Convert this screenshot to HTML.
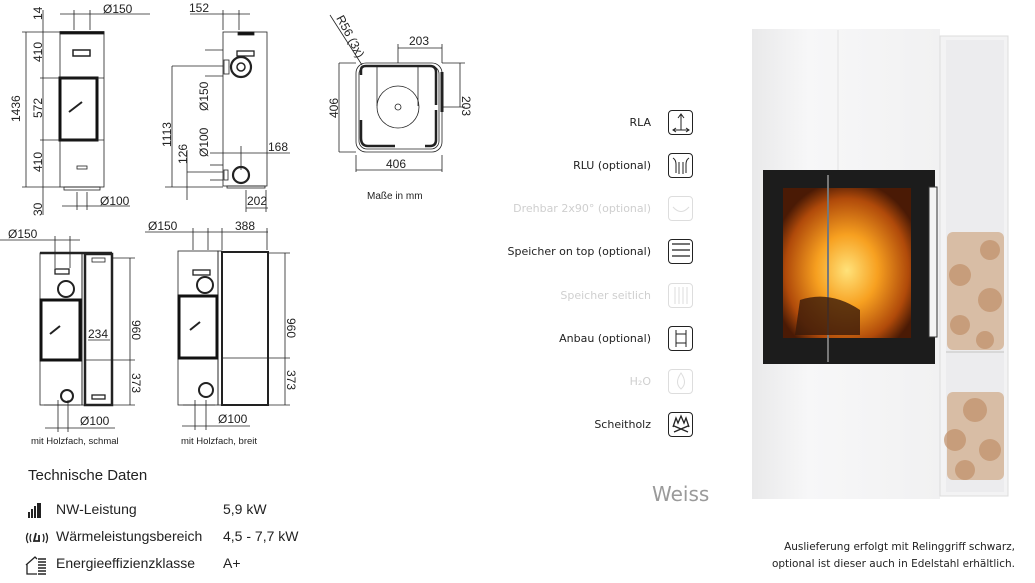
<!DOCTYPE html>
<html><head><meta charset="utf-8"><style>
html,body{margin:0;padding:0;background:#fff;}
body{width:1035px;height:583px;overflow:hidden;position:relative;font-family:"Liberation Sans",sans-serif;}
svg{position:absolute;left:0;top:0;}
.t{position:absolute;white-space:nowrap;color:#222;}
.lbl{position:absolute;right:384px;font-size:11.5px;color:#222;white-space:nowrap;font-family:"DejaVu Sans",sans-serif;font-size:11px;}
.dis{color:#cfcfcf;}
.ic{position:absolute;left:668px;width:25px;height:25px;border:1.5px solid #222;border-radius:4px;box-sizing:border-box;}
.ic.d{border-color:#ddd;}
</style></head><body>
<svg width="1035" height="583" viewBox="0 0 1035 583" font-family="Liberation Sans, sans-serif" font-size="11" fill="none" stroke="#222" stroke-width="0.8">
<!-- Drawing 1 front -->
<rect x="60" y="32" width="44" height="155"/>
<rect x="60" y="31.5" width="44" height="2.5" fill="#111"/>
<rect x="73" y="50" width="17" height="6" stroke-width="1.5"/>
<rect x="60" y="78" width="37" height="62" stroke="#111" stroke-width="3"/>
<path d="M69 112 L82 102" stroke-width="2"/>
<rect x="77" y="166" width="10" height="3"/>
<line x1="60" y1="78" x2="104" y2="78"/><line x1="60" y1="140" x2="104" y2="140"/>
<rect x="64" y="187" width="36" height="3"/>
<line x1="26" y1="32" x2="26" y2="187"/><line x1="43" y1="10" x2="43" y2="215"/>
<line x1="22" y1="32" x2="60" y2="32"/><line x1="22" y1="187" x2="60" y2="187"/><line x1="40" y1="78" x2="60" y2="78"/><line x1="40" y1="140" x2="60" y2="140"/>
<line x1="60" y1="14" x2="150" y2="14"/><line x1="74" y1="10" x2="74" y2="30"/><line x1="90" y1="10" x2="90" y2="30"/>
<line x1="62" y1="206" x2="130" y2="206"/><line x1="77" y1="192" x2="77" y2="210"/><line x1="87" y1="192" x2="87" y2="210"/>
<g fill="#222" stroke="none" font-size="12">
<text x="103" y="13">Ø150</text><text x="100" y="205">Ø100</text>
<text transform="translate(20,122) rotate(-90)">1436</text>
<text transform="translate(42,62) rotate(-90)">410</text>
<text transform="translate(42,118) rotate(-90)">572</text>
<text transform="translate(42,172) rotate(-90)">410</text>
<text transform="translate(42,20) rotate(-90)">14</text>
<text transform="translate(42,216) rotate(-90)">30</text>
</g>
<!-- Drawing 2 side -->
<rect x="223" y="32" width="44" height="154"/>
<rect x="238" y="32" width="16" height="3" fill="#111"/>
<rect x="237" y="51" width="17" height="5" stroke-width="1.3"/>
<circle cx="241" cy="67" r="10" stroke-width="2.2"/><circle cx="241" cy="67" r="4" stroke-width="1.5"/>
<rect x="224" y="60" width="5" height="14"/>
<circle cx="241" cy="175" r="8" stroke-width="2.2"/><rect x="224" y="170" width="4" height="10"/>
<rect x="227" y="186" width="38" height="2"/>
<line x1="172" y1="66" x2="223" y2="66"/><line x1="172" y1="66" x2="172" y2="187"/>
<line x1="205" y1="50" x2="223" y2="50"/><line x1="205" y1="76" x2="223" y2="76"/>
<line x1="187" y1="172" x2="223" y2="172"/><line x1="187" y1="150" x2="187" y2="200"/>
<line x1="210" y1="165" x2="223" y2="165"/><line x1="210" y1="180" x2="223" y2="180"/>
<line x1="165" y1="187" x2="223" y2="187"/>
<line x1="210" y1="153" x2="290" y2="153"/><line x1="241" y1="146" x2="241" y2="170"/>
<line x1="190" y1="14" x2="250" y2="14"/><line x1="223" y1="10" x2="223" y2="30"/><line x1="239" y1="10" x2="239" y2="30"/>
<line x1="246" y1="208" x2="268" y2="208"/><line x1="246" y1="190" x2="246" y2="212"/><line x1="266" y1="190" x2="266" y2="212"/>
<g fill="#222" stroke="none" font-size="12">
<text x="189" y="12">152</text><text x="268" y="151">168</text><text x="247" y="205">202</text>
<text transform="translate(171,147) rotate(-90)">1113</text>
<text transform="translate(208,111) rotate(-90)">Ø150</text>
<text transform="translate(208,157) rotate(-90)">Ø100</text>
<text transform="translate(187,164) rotate(-90)">126</text>
</g>
<!-- Drawing 3 top view -->
<rect x="356" y="63" width="86" height="89" rx="10"/>
<rect x="359" y="66" width="80" height="83" rx="8"/>
<path d="M361 75 V70 Q361 66 366 66 H430 Q436 66 436 72 V105" stroke-width="2.5"/>
<path d="M361 120 V138 Q361 146 368 146 H395" stroke-width="2.5"/>
<path d="M425 146 H430 Q436 146 436 140 V110" stroke-width="2.5"/>
<circle cx="398" cy="107" r="21"/><circle cx="398" cy="107" r="3"/>
<line x1="377" y1="67" x2="377" y2="106"/><line x1="418" y1="67" x2="418" y2="106"/>
<line x1="442" y1="72" x2="442" y2="112" stroke-width="3"/>
<line x1="330" y1="15" x2="362" y2="65"/>
<line x1="339" y1="63" x2="356" y2="63"/><line x1="339" y1="152" x2="356" y2="152"/><line x1="339" y1="63" x2="339" y2="152"/>
<line x1="398" y1="48" x2="442" y2="48"/><line x1="398" y1="44" x2="398" y2="63"/><line x1="442" y1="44" x2="442" y2="63"/>
<line x1="442" y1="63" x2="465" y2="63"/><line x1="442" y1="107" x2="465" y2="107"/><line x1="460" y1="63" x2="460" y2="107"/>
<line x1="356" y1="170" x2="442" y2="170"/><line x1="356" y1="155" x2="356" y2="172"/><line x1="442" y1="155" x2="442" y2="172"/>
<g fill="#222" stroke="none" font-size="12">
<text x="409" y="45">203</text><text x="386" y="168">406</text>
<text transform="translate(338,118) rotate(-90)">406</text>
<text transform="translate(462,96) rotate(90)">203</text>
<text transform="translate(336,18) rotate(62)">R56 (3x)</text>
<text x="367" y="199" font-size="10">Maße in mm</text>
</g>
<!-- Drawing 4 -->
<rect x="40" y="253" width="42" height="152"/>
<line x1="82" y1="253" x2="82" y2="405"/><rect x="82" y="253" width="3" height="152"/>
<rect x="85" y="254" width="27" height="151" stroke-width="2.5"/>
<line x1="40" y1="253" x2="112" y2="253" stroke-width="2.5"/>
<rect x="55" y="269" width="14" height="5" stroke-width="1.3"/>
<circle cx="66" cy="289" r="8" stroke-width="2"/>
<rect x="41" y="300" width="39" height="60" stroke="#111" stroke-width="3"/>
<path d="M50 334 L60 326" stroke-width="2"/>
<line x1="85" y1="360" x2="112" y2="360"/>
<rect x="92" y="258" width="13" height="4"/><rect x="92" y="395" width="13" height="4" stroke-width="1.3"/>
<circle cx="67" cy="396" r="6" stroke-width="2"/>
<line x1="44" y1="405" x2="80" y2="405"/>
<line x1="112" y1="258" x2="135" y2="258"/><line x1="112" y1="360" x2="135" y2="360"/><line x1="112" y1="405" x2="135" y2="405"/><line x1="130" y1="258" x2="130" y2="405"/>
<line x1="0" y1="240" x2="80" y2="240"/><line x1="55" y1="236" x2="55" y2="268"/><line x1="70" y1="236" x2="70" y2="268"/>
<line x1="45" y1="428" x2="115" y2="428"/><line x1="58" y1="400" x2="58" y2="432"/><line x1="68" y1="400" x2="68" y2="432"/>
<line x1="88" y1="340" x2="110" y2="340"/>
<g fill="#222" stroke="none" font-size="12">
<text x="8" y="238">Ø150</text><text x="88" y="338">234</text><text x="80" y="425">Ø100</text>
<text transform="translate(132,320) rotate(90)">960</text>
<text transform="translate(132,373) rotate(90)">373</text>
<text x="31" y="444" font-size="9.5">mit Holzfach, schmal</text>
<text x="181" y="444" font-size="9.5">mit Holzfach, breit</text>
</g>
<!-- Drawing 5 -->
<rect x="178" y="251" width="40" height="154"/>
<rect x="218" y="251" width="4" height="154"/>
<rect x="222" y="252" width="46" height="153" stroke-width="2"/>
<line x1="222" y1="358" x2="268" y2="358"/>
<rect x="193" y="270" width="17" height="5" stroke-width="1.3"/>
<circle cx="205" cy="285" r="8" stroke-width="2"/>
<rect x="179" y="296" width="38" height="62" stroke="#111" stroke-width="3"/>
<path d="M190 330 L200 322" stroke-width="2"/>
<circle cx="206" cy="390" r="7" stroke-width="2"/>
<line x1="183" y1="405" x2="215" y2="405"/>
<line x1="145" y1="232" x2="268" y2="232"/><line x1="193" y1="228" x2="193" y2="250"/><line x1="208" y1="228" x2="208" y2="250"/><line x1="222" y1="228" x2="222" y2="250"/><line x1="267" y1="228" x2="267" y2="250"/>
<line x1="268" y1="253" x2="290" y2="253"/><line x1="268" y1="358" x2="290" y2="358"/><line x1="268" y1="405" x2="290" y2="405"/><line x1="285" y1="253" x2="285" y2="405"/>
<line x1="182" y1="426" x2="250" y2="426"/><line x1="195" y1="400" x2="195" y2="430"/><line x1="206" y1="400" x2="206" y2="430"/>
<g fill="#222" stroke="none" font-size="12">
<text x="148" y="230">Ø150</text><text x="235" y="230">388</text><text x="218" y="423">Ø100</text>
<text transform="translate(287,318) rotate(90)">960</text>
<text transform="translate(287,370) rotate(90)">373</text>
</g>
<!-- tech data icons -->
<g fill="#222" stroke="none">
<rect x="28" y="512" width="2" height="6"/><rect x="31" y="509" width="2" height="9"/><rect x="34" y="506" width="2" height="12"/><rect x="37" y="503" width="4" height="15"/>
</g>
<g stroke="#222" stroke-width="1.3">
<path d="M28 533 Q25 538 28 543 M31 534 Q29 538 31 542 M46 533 Q49 538 46 543 M43 534 Q45 538 43 542"/>
<path d="M36 533 L34 541 H40 M39 535 V541" stroke-width="1.8"/>
<path d="M26 565 L35 557 L37 559 M27 564 V574 H37"/>
<path d="M38 559 H46 M38 562 H46 M38 565 H46 M38 568 H46 M38 571 H46 M38 574 H46" stroke-width="1.6"/>
</g>
</svg>

<!-- icon list -->
<div class="lbl" style="top:116px">RLA</div>
<div class="lbl" style="top:159px">RLU (optional)</div>
<div class="lbl dis" style="top:202px">Drehbar 2x90° (optional)</div>
<div class="lbl" style="top:245px">Speicher on top (optional)</div>
<div class="lbl dis" style="top:289px">Speicher seitlich</div>
<div class="lbl" style="top:332px">Anbau (optional)</div>
<div class="lbl dis" style="top:375px">H₂O</div>
<div class="lbl" style="top:418px">Scheitholz</div>
<div class="ic" style="top:110px"></div>
<div class="ic" style="top:153px"></div>
<div class="ic d" style="top:196px"></div>
<div class="ic" style="top:239px"></div>
<div class="ic d" style="top:283px"></div>
<div class="ic" style="top:326px"></div>
<div class="ic d" style="top:369px"></div>
<div class="ic" style="top:412px"></div>
<svg width="1035" height="583" style="pointer-events:none" fill="none" stroke="#222" stroke-width="1">
<path d="M681 115 V130 M678 118 L681 114 L684 118 M673 130 H689 M676 128 L673 130 L676 132 M686 128 L689 130 L686 132"/>
<path d="M673 158 Q676 160 676 164 V173 M689 158 Q686 160 686 164 V173 M679 162 V174 M683 162 V174"/>
<path d="M673 207 Q681 216 689 207" stroke="#ddd"/>
<path d="M672 244 H690 M672 250 H690 M672 256 H690" stroke-width="1.2"/>
<path d="M675 287 V304 M679 287 V304 M683 287 V304 M687 287 V304" stroke="#ddd"/>
<path d="M676 330 V347 M686 330 V347 M676 334 H686 M676 343 H686"/>
<path d="M681 373 Q688 383 681 389 Q674 383 681 373Z" stroke="#ddd"/>
<path d="M673 427 L676 418 L678 423 L681 416 L684 423 L686 418 L689 427 M674 432 L688 426 M674 426 L688 432" stroke-width="1.3"/>
</svg>
<div class="t" style="left:652px;top:482px;font-size:20px;color:#9a9a9a;font-family:'DejaVu Sans',sans-serif;">Weiss</div>

<!-- tech data -->
<div class="t" style="left:28px;top:467px;font-size:15px;">Technische Daten</div>
<div class="t" style="left:56px;top:501px;font-size:14px;">NW-Leistung</div>
<div class="t" style="left:223px;top:501px;font-size:14px;">5,9 kW</div>
<div class="t" style="left:56px;top:528px;font-size:14px;">Wärmeleistungsbereich</div>
<div class="t" style="left:223px;top:528px;font-size:14px;">4,5 - 7,7 kW</div>
<div class="t" style="left:56px;top:555px;font-size:14px;">Energieeffizienzklasse</div>
<div class="t" style="left:223px;top:555px;font-size:14px;">A+</div>

<!-- stove photo -->
<svg width="1035" height="583">
<defs>
<linearGradient id="bd" x1="0" x2="1"><stop offset="0" stop-color="#e9e9ea"/><stop offset="0.3" stop-color="#f7f7f8"/><stop offset="1" stop-color="#f1f1f2"/></linearGradient>
<radialGradient id="fire" cx="0.5" cy="0.55" r="0.6"><stop offset="0" stop-color="#ffe27a"/><stop offset="0.4" stop-color="#f7a020"/><stop offset="0.8" stop-color="#b04a0a"/><stop offset="1" stop-color="#4a1a05"/></radialGradient>
</defs>
<rect x="752" y="29" width="188" height="470" fill="url(#bd)"/>
<line x1="838" y1="30" x2="838" y2="170" stroke="#e2e2e3"/>
<rect x="940" y="36" width="68" height="460" fill="#f3f3f4" stroke="#dcdcdc"/>
<rect x="946" y="40" width="58" height="452" fill="#ececee"/>
<line x1="946" y1="352" x2="1004" y2="352" stroke="#d8d8d8" stroke-width="2"/>
<g fill="#d8bda5">
<rect x="947" y="232" width="57" height="118" rx="6"/>
<rect x="947" y="392" width="57" height="88" rx="6"/>
</g>
<g fill="#c0906a" opacity="0.7">
<circle cx="990" cy="250" r="10"/><circle cx="960" cy="275" r="11"/><circle cx="990" cy="300" r="12"/><circle cx="960" cy="325" r="10"/><circle cx="985" cy="340" r="9"/>
<circle cx="975" cy="410" r="12"/><circle cx="955" cy="440" r="11"/><circle cx="990" cy="450" r="11"/><circle cx="965" cy="470" r="10"/>
</g>
<rect x="763" y="170" width="172" height="194" fill="#1c1c1c"/>
<rect x="783" y="188" width="128" height="150" fill="url(#fire)"/>
<line x1="828" y1="175" x2="828" y2="362" stroke="#777" stroke-width="2"/>
<rect x="929" y="187" width="8" height="150" fill="#f4f4f4" stroke="#333"/>
<path d="M800 300 Q830 290 860 310 L860 335 L795 335Z" fill="#3a1a0a" opacity="0.8"/>
</svg>
<div class="t" style="right:20px;top:539px;font-size:10.5px;text-align:right;line-height:17px;font-family:'DejaVu Sans',sans-serif;">Auslieferung erfolgt mit Relinggriff schwarz,<br>optional ist dieser auch in Edelstahl erhältlich.</div>
</body></html>
